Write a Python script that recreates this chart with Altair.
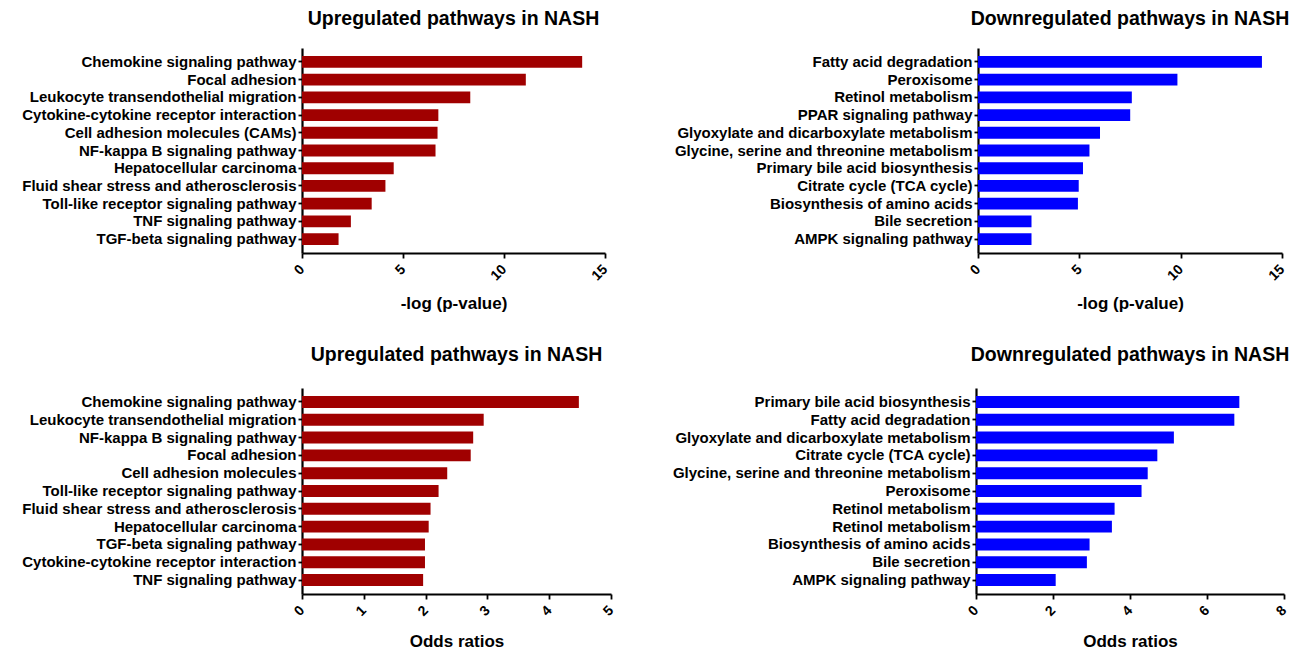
import altair as alt
import pandas as pd

# ---- Data ----
up_p_names = [
    "Chemokine signaling pathway", "Focal adhesion", "Leukocyte transendothelial migration",
    "Cytokine-cytokine receptor interaction", "Cell adhesion molecules (CAMs)",
    "NF-kappa B signaling pathway", "Hepatocellular carcinoma",
    "Fluid shear stress and atherosclerosis", "Toll-like receptor signaling pathway",
    "TNF signaling pathway", "TGF-beta signaling pathway",
]
up_p_vals = [13.87, 11.08, 8.33, 6.75, 6.71, 6.61, 4.54, 4.13, 3.45, 2.42, 1.81]

down_p_names = [
    "Fatty acid degradation", "Peroxisome", "Retinol metabolism", "PPAR signaling pathway",
    "Glyoxylate and dicarboxylate metabolism", "Glycine, serine and threonine metabolism",
    "Primary bile acid biosynthesis", "Citrate cycle (TCA cycle)",
    "Biosynthesis of amino acids", "Bile secretion", "AMPK signaling pathway",
]
down_p_vals = [14.01, 9.84, 7.59, 7.51, 6.02, 5.50, 5.18, 4.97, 4.93, 2.64, 2.64]

up_or_names = [
    "Chemokine signaling pathway", "Leukocyte transendothelial migration",
    "NF-kappa B signaling pathway", "Focal adhesion", "Cell adhesion molecules",
    "Toll-like receptor signaling pathway", "Fluid shear stress and atherosclerosis",
    "Hepatocellular carcinoma", "TGF-beta signaling pathway",
    "Cytokine-cytokine receptor interaction", "TNF signaling pathway",
]
up_or_vals = [4.48, 2.94, 2.77, 2.73, 2.35, 2.21, 2.08, 2.05, 1.99, 1.99, 1.96]

down_or_names = [
    "Primary bile acid biosynthesis", "Fatty acid degradation",
    "Glyoxylate and dicarboxylate metabolism", "Citrate cycle (TCA cycle)",
    "Glycine, serine and threonine metabolism", "Peroxisome", "Retinol metabolism",
    "Retinol metabolism", "Biosynthesis of amino acids", "Bile secretion",
    "AMPK signaling pathway",
]
down_or_vals = [6.84, 6.71, 5.14, 4.71, 4.46, 4.30, 3.60, 3.53, 2.95, 2.88, 2.07]

p_ticks = [0, 5, 10, 15]
up_or_ticks = [0, 1, 2, 3, 4, 5]
down_or_ticks = [0, 2, 4, 6, 8]

RED = "#A00000"
BLUE = "#0000FF"
FONT = "Liberation Sans"


def panel(names, vals, color, title, xtitle, ticks, width, height, extent,
          title_offset, xtitle_pad):
    df = pd.DataFrame({
        "key": [f"{i:02d}|{n}" for i, n in enumerate(names)],
        "value": vals,
    })
    return alt.Chart(df).mark_bar(color=color).encode(
        x=alt.X(
            "value:Q",
            scale=alt.Scale(domain=[ticks[0], ticks[-1]], nice=False, zero=True),
            axis=alt.Axis(
                values=ticks, title=xtitle, labelAngle=315, labelFontSize=14,
                labelAlign="right", labelBaseline="middle",
                titleFontSize=17, titlePadding=xtitle_pad, labelPadding=9,
            ),
        ),
        y=alt.Y(
            "key:N", sort="ascending",
            scale=alt.Scale(paddingInner=0.33, paddingOuter=0.45),
            axis=alt.Axis(
                title=None, labelExpr="split(datum.label, '|')[1]",
                labelFontSize=15.0, minExtent=extent, maxExtent=extent,
                labelLimit=400, labelPadding=2, tickSize=4,
            ),
        ),
    ).properties(
        width=width, height=height,
        title=alt.TitleParams(title, fontSize=19.5, font=FONT, fontWeight="bold",
                              anchor="middle", frame="group", offset=title_offset,
                              color="black"),
    )


c1 = panel(up_p_names, up_p_vals, RED, "Upregulated pathways in NASH",
           "-log (p-value)", p_ticks, 303, 205, 288, 19, 13)
c2 = panel(down_p_names, down_p_vals, BLUE, "Downregulated pathways in NASH",
           "-log (p-value)", p_ticks, 304, 205, 317, 19, 13)
c3 = panel(up_or_names, up_or_vals, RED, "Upregulated pathways in NASH",
           "Odds ratios", up_or_ticks, 309, 206, 299, 23, 15)
c4 = panel(down_or_names, down_or_vals, BLUE, "Downregulated pathways in NASH",
           "Odds ratios", down_or_ticks, 308, 206, 315, 23, 15)

chart = alt.concat(
    c1, c2, c3, c4,
    columns=2,
    align=alt.RowColLayoutAlign(row="all", column="none"),
    spacing=alt.RowColnumber(row=32, column=45),
).properties(
    padding={"left": -5, "top": 0, "right": 5, "bottom": 0},
).configure_view(stroke=None).configure_axis(
    grid=False, domainColor="black", domainWidth=2.2, tickColor="black", tickWidth=1.8,
    labelColor="black", titleColor="black", labelFont=FONT, titleFont=FONT,
    labelFontWeight="bold", titleFontWeight="bold",
).configure_axisX(tickSize=5)

chart.save("out.html", embed_options={"renderer": "svg", "actions": False})
